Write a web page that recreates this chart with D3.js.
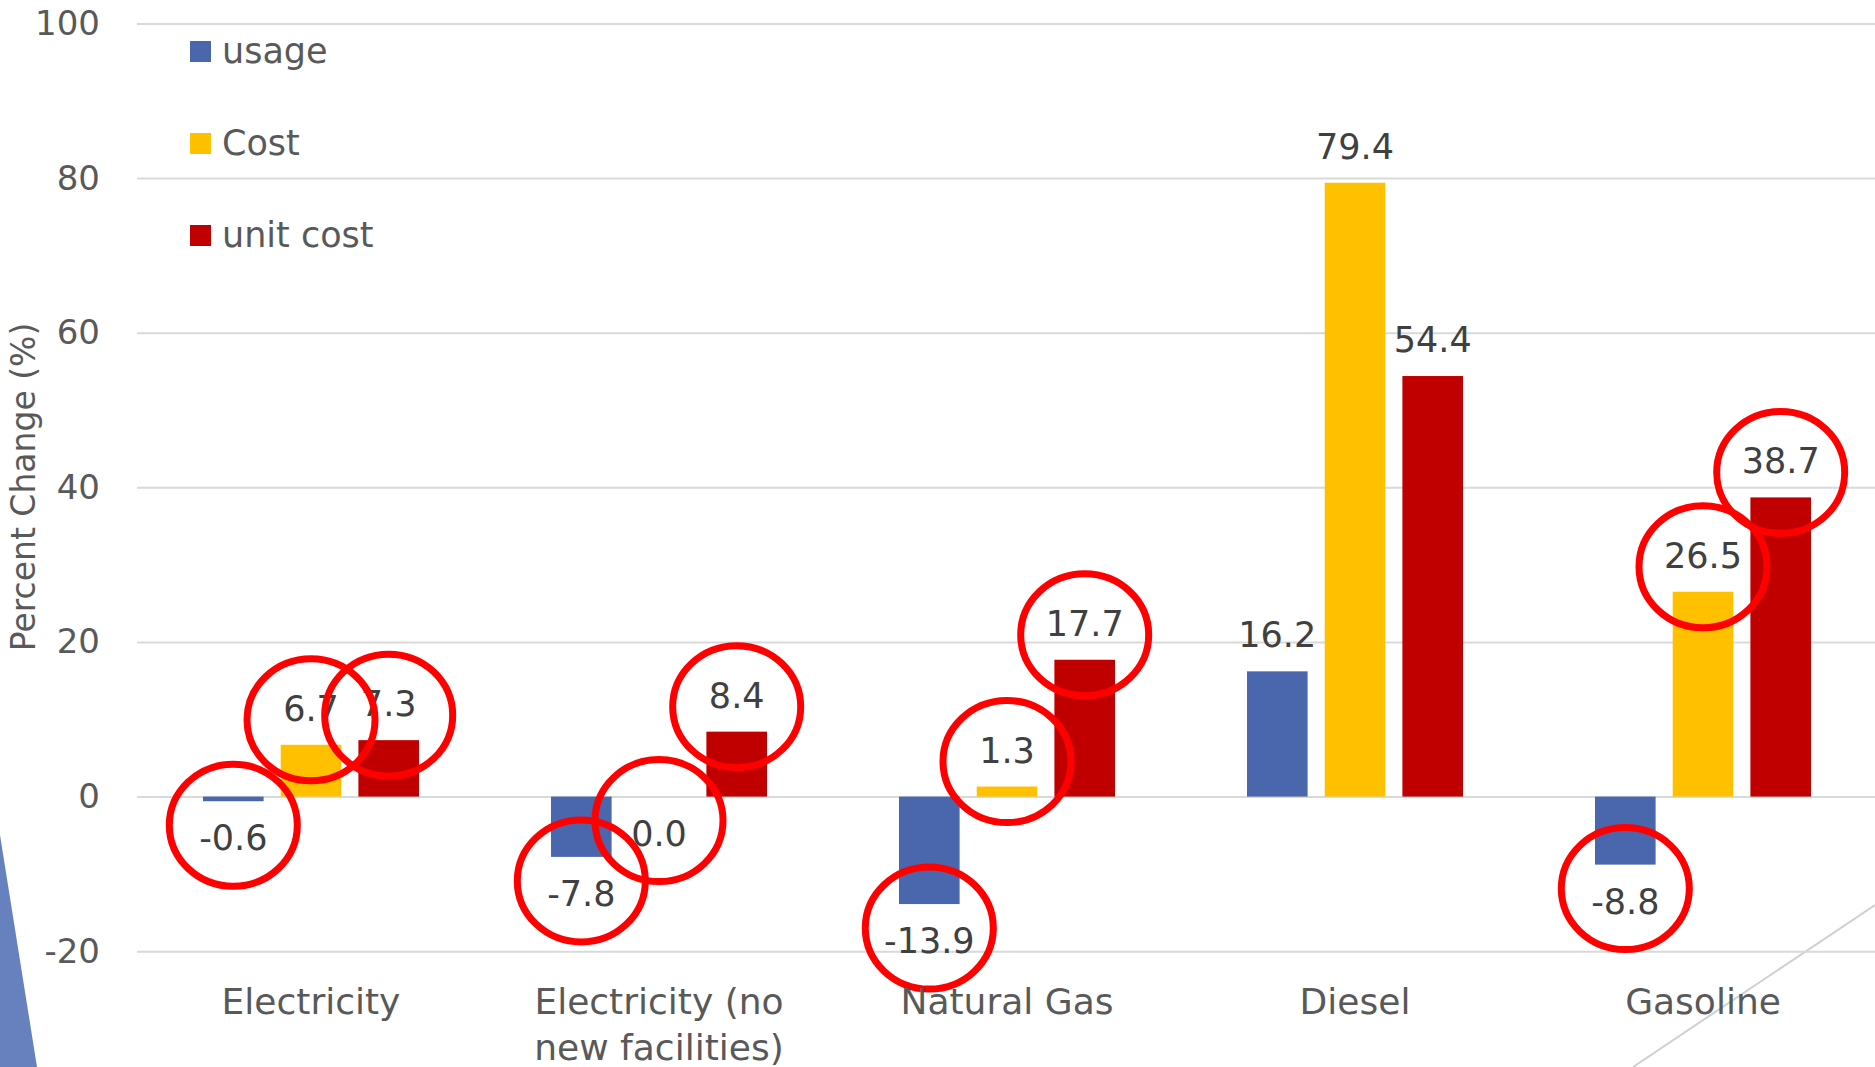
<!DOCTYPE html>
<html>
<head>
<meta charset="utf-8">
<script src="https://cdn.jsdelivr.net/npm/d3@7"></script>
<style>
  body { margin: 0; background: #fff; }
  svg { display: block; font-family: "DejaVu Sans", sans-serif; }
</style>
</head>
<body>
<svg id="chart"></svg>
<script>
const categories = ['Electricity', 'Electricity (no new facilities)', 'Natural Gas', 'Diesel', 'Gasoline'];
const seriesNames = ['usage', 'Cost', 'unit cost'];
const usage = [-0.6, -7.8, -13.9, 16.2, -8.8];
const cost = [6.7, 0.0, 1.3, 79.4, 26.5];
const unitCost = [7.3, 8.4, 17.7, 54.4, 38.7];
const yTicks = [-20, 0, 20, 40, 60, 80, 100];
// categories whose labels were circled in red on the slide
const circled = ['Electricity', 'Electricity (no new facilities)', 'Natural Gas', 'Gasoline'];

const colors = d3.scaleOrdinal().domain(seriesNames).range(['#4A66AC', '#FFC000', '#C00000']);

const width = 1875, height = 1067;
const svg = d3.select('#chart').attr('width', width).attr('height', height);

const x0 = d3.scaleBand().domain(categories).range([137, 1877]);
const x1 = d3.scaleBand().domain(seriesNames).range([66, 282]).paddingInner(0.22);
const y = d3.scaleLinear().domain([-20, 100]).range([951.2, 23.5]);

// slide decorations
svg.append('path')
  .attr('d', 'M0,835 L37,1067 L0,1067 Z')
  .attr('fill', '#6781BE');
svg.append('line')
  .attr('x1', 1875).attr('y1', 905).attr('x2', 1633).attr('y2', 1067)
  .attr('stroke', '#D0D0D0').attr('stroke-width', 2);

// gridlines + y tick labels
const yAxis = d3.axisLeft(y)
  .tickValues(yTicks)
  .tickFormat((d) => String(d))
  .tickSize(-(1875 - 137))
  .tickPadding(37);
const gy = svg.append('g').attr('transform', 'translate(137,0)').call(yAxis);
gy.select('.domain').remove();
gy.selectAll('.tick line').attr('stroke', '#D9D9D9').attr('stroke-width', 2);
gy.selectAll('.tick text')
  .attr('fill', '#595959')
  .style('font-size', '34px')
  .style('font-family', '"DejaVu Sans", sans-serif');

// y axis title
svg.append('text')
  .attr('transform', 'translate(35,487) rotate(-90)')
  .attr('text-anchor', 'middle')
  .attr('fill', '#595959')
  .style('font-size', '33px')
  .text('Percent Change (%)');

const rows = [];
categories.forEach((c, i) => {
  rows.push({ cat: c, s: 'usage', v: usage[i] });
  rows.push({ cat: c, s: 'Cost', v: cost[i] });
  rows.push({ cat: c, s: 'unit cost', v: unitCost[i] });
});
const cx = (d) => x0(d.cat) + x1(d.s) + x1.bandwidth() / 2;

svg.append('g').selectAll('rect')
  .data(rows)
  .enter()
  .append('rect')
  .attr('x', (d) => x0(d.cat) + x1(d.s))
  .attr('width', x1.bandwidth())
  .attr('y', (d) => y(Math.max(d.v, 0)))
  .attr('height', (d) => Math.max(Math.abs(y(d.v) - y(0)), 0))
  .attr('fill', (d) => colors(d.s));

const labelY = (d) => d.v > 0 ? y(d.v) - 24 : y(Math.min(d.v, 0)) + 49;

svg.append('g').selectAll('text')
  .data(rows)
  .enter()
  .append('text')
  .attr('x', cx)
  .attr('y', labelY)
  .attr('text-anchor', 'middle')
  .attr('fill', '#404040')
  .style('font-size', '35px')
  .text((d) => d.v.toFixed(1));

// red annotation circles
svg.append('g').selectAll('ellipse')
  .data(rows.filter((d) => circled.includes(d.cat)))
  .enter()
  .append('ellipse')
  .attr('cx', cx)
  .attr('cy', (d) => labelY(d) - 13 + (d.v > 0 ? 12 : -12))
  .attr('rx', 64)
  .attr('ry', 61)
  .attr('fill', 'none')
  .attr('stroke', '#FF0000')
  .attr('stroke-width', 7);

// category labels
const catLabels = svg.append('g').selectAll('text')
  .data(categories)
  .enter()
  .append('text')
  .attr('x', (d) => x0(d) + x0.bandwidth() / 2)
  .attr('y', 1014)
  .attr('text-anchor', 'middle')
  .attr('fill', '#595959')
  .style('font-size', '36px')
  .text((d) => d);

catLabels.each(function (d) {
  const t = d3.select(this);
  if (this.getComputedTextLength() <= 300) return;
  const words = d.split(' ');
  t.text(null);
  let line = [];
  let tspan = t.append('tspan').attr('x', t.attr('x')).attr('dy', 0);
  words.forEach((w) => {
    line.push(w);
    tspan.text(line.join(' '));
    if (tspan.node().getComputedTextLength() > 300 && line.length > 1) {
      line.pop();
      tspan.text(line.join(' '));
      line = [w];
      tspan = t.append('tspan').attr('x', t.attr('x')).attr('dy', 46).text(w);
    }
  });
});

// legend
const legend = svg.append('g').selectAll('g')
  .data(seriesNames)
  .enter()
  .append('g')
  .attr('transform', (d, i) => `translate(190,${41 + i * 92})`);
legend.append('rect').attr('width', 21).attr('height', 21).attr('fill', (d) => colors(d));
legend.append('text')
  .attr('x', 32)
  .attr('y', 22)
  .attr('fill', '#595959')
  .style('font-size', '35px')
  .text((d) => d);
</script>
</body>
</html>
